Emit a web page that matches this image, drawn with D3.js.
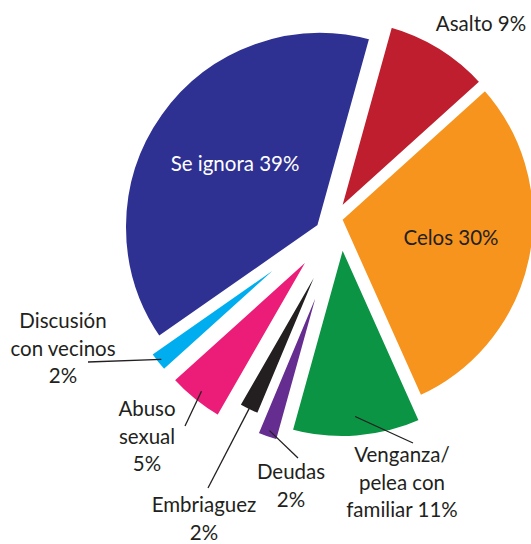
<!DOCTYPE html>
<html>
<head>
<meta charset="utf-8">
<script src="https://cdn.jsdelivr.net/npm/d3@7"></script>
<style>
  body { margin: 0; background: #fff; }
  svg { display: block; font-family: Lato, "Open Sans", sans-serif; }
</style>
</head>
<body>
<svg id="chart" width="531" height="544"></svg>
<script>
// data, clockwise from the top
const categories = ["Asalto", "Celos", "Venganza/pelea con familiar", "Deudas",
  "Embriaguez", "Abuso sexual", "Discusión con vecinos", "Se ignora"];
const values = [9, 30, 11, 2, 2, 5, 2, 39];
const labelLines = [
  ["Asalto 9%"],
  ["Celos 30%"],
  ["Venganza/", "pelea con", "familiar 11%"],
  ["Deudas", "2%"],
  ["Embriaguez", "2%"],
  ["Abuso", "sexual", "5%"],
  ["Discusión", "con vecinos", "2%"],
  ["Se ignora 39%"],
];
const colors = ["#be1e2d", "#f7941d", "#0b9444", "#662d91",
  "#231f20", "#ec1c79", "#00aeef", "#2e3192"];

// layout
const cx = 330, cy = 232, R = 197;
const startDeg = 15.5;
// each wedge is pushed out a bit differently
const shift = [[7, -18], [9, -13], [12, 10], [1, 21], [5, 3], [-13, 16], [-20, 9], [-10, -5]];
const labelPos = [[481, 31], [451, 245], [402, 462], [291, 479], [204, 512], [147, 416], [63, 328], [235, 171]];
const leaderR = [null, null, 175, 188, 190, 184, 190, null];
const leaderEnd = [null, null, [413, 443], [298, 458], [208, 488], [185, 426], [88, 362], null];
const lineH = 27.5;

const svg = d3.select("#chart");

const a0 = startDeg * Math.PI / 180;
const pie = d3.pie().sort(null).value((d) => d)
  .startAngle(a0).endAngle(a0 + 2 * Math.PI);
const arcs = pie(values);

const arc = d3.arc().innerRadius(0).outerRadius(R);

const slices = svg.append("g").classed("slices", true);
slices.selectAll("path")
  .data(arcs)
  .join("path")
  .attr("transform", (d, i) => `translate(${cx + shift[i][0]},${cy + shift[i][1]})`)
  .attr("d", arc)
  .attr("fill", (d, i) => colors[i])
  .attr("stroke", "#fff")
  .attr("stroke-width", 6)
  .attr("stroke-linejoin", "miter");

// leader lines
const leaders = svg.append("g").classed("leaders", true);
arcs.forEach((d, i) => {
  if (leaderR[i] == null) return;
  const p = d3.arc().innerRadius(leaderR[i]).outerRadius(leaderR[i]).centroid(d);
  leaders.append("line")
    .attr("x1", cx + shift[i][0] + p[0])
    .attr("y1", cy + shift[i][1] + p[1])
    .attr("x2", leaderEnd[i][0])
    .attr("y2", leaderEnd[i][1])
    .attr("stroke", "#231f20")
    .attr("stroke-width", 1.3);
});

// labels
const labels = svg.append("g").classed("labels", true);
labelLines.forEach((lines, i) => {
  const t = labels.append("text")
    .attr("x", labelPos[i][0])
    .attr("y", labelPos[i][1])
    .attr("text-anchor", "middle")
    .attr("font-size", 20.5)
    .attr("fill", i === 7 ? "#fff" : "#231f20");
  lines.forEach((s, j) => {
    t.append("tspan")
      .attr("x", labelPos[i][0])
      .attr("dy", j === 0 ? 0 : lineH)
      .text(s);
  });
});
</script>
</body>
</html>
